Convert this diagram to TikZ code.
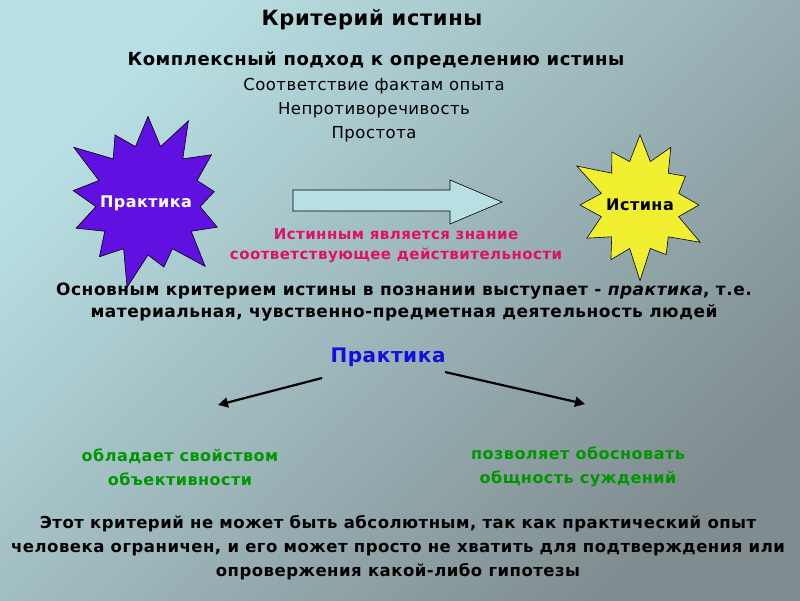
\documentclass[tikz,border=0pt]{standalone}
\usepackage{fontspec}
\setmainfont{DejaVu Sans}[LetterSpace=3]
\usetikzlibrary{shapes.symbols,arrows.meta}
\begin{document}
\begin{tikzpicture}[x=1pt,y=-1pt,
  txt/.style={align=center,inner sep=0pt,font=\fontsize{16.5}{24}\selectfont},
  btxt/.style={txt,font=\bfseries\fontsize{15}{20}\selectfont},
  star/.style={starburst,starburst points=13,draw=black,line width=0.6pt,inner sep=0pt},
  conn/.style={line width=2.2pt,-{Triangle[length=10pt,width=10pt]}}]
\useasboundingbox (0,0) rectangle (800,600);
\shade[top color={rgb,255:red,184;green,224;blue,228},bottom color={rgb,255:red,128;green,140;blue,144},shading angle=45] (0,0) rectangle (800,600);
\node[txt,font=\bfseries\fontsize{21}{24}\selectfont] (t) at (372,20) {Критерий истины};
\node[btxt,font=\bfseries\fontsize{18}{20}\selectfont] (s) at (376,60) {Комплексный подход к определению истины};
\node[txt] (l1) at (374,86) {Соответствие фактам опыта};
\node[txt] (l2) at (374,110) {Непротиворечивость};
\node[txt] (l3) at (374,134) {Простота};
\node[star,fill={rgb,255:red,96;green,16;blue,224},minimum width=185pt,minimum height=190pt,starburst point height=40pt] (p) at (148,200) {};
\node[font=\bfseries\fontsize{16}{20}\selectfont,text=white] (pt) at (146,203) {Практика};
\node[star,fill={rgb,255:red,240;green,240;blue,48},minimum width=150pt,minimum height=160pt,starburst point height=35pt,starburst points=12] (i) at (640,205) {};
\node[font=\bfseries\fontsize{16}{20}\selectfont] (it) at (640,205) {Истина};
\draw[fill={rgb,255:red,184;green,224;blue,228},line width=0.6pt] (293,190) -- (450,190) -- (450,180) -- (502,202) -- (450,224) -- (450,211) -- (293,211) -- cycle;
\node[btxt,text={rgb,255:red,224;green,16;blue,106}] (ist) at (396,246) {Истинным является знание\\соответствующее действительности};
\node[btxt,font=\bfseries\fontsize{17}{22}\selectfont] (main) at (404,302) {Основным критерием истины в познании выступает - \textit{практика}, т.е.\\материальная, чувственно-предметная деятельность людей};
\node[font=\bfseries\fontsize{20}{22}\selectfont,text={rgb,255:red,16;green,16;blue,224}] (pr) at (388,357) {Практика};
\node[btxt,font=\bfseries\fontsize{16}{24}\selectfont,text={rgb,255:red,0;green,150;blue,0}] (g1) at (180,467) {обладает свойством\\объективности};
\node[btxt,font=\bfseries\fontsize{16}{24}\selectfont,text={rgb,255:red,0;green,150;blue,0}] (g2) at (578,467) {позволяет обосновать\\общность суждений};
\coordinate (c1) at (322,378);
\coordinate (c2) at (218,405);
\coordinate (c3) at (445,372);
\coordinate (c4) at (585,404);
\draw[conn] (c1) -- (c2);
\draw[conn] (c3) -- (c4);
\node[btxt,font=\bfseries\fontsize{16.5}{24}\selectfont] (bot) at (398,548) {Этот критерий не может быть абсолютным, так как практический опыт\\человека ограничен, и его может просто не хватить для подтверждения или\\опровержения какой-либо гипотезы};
\end{tikzpicture}
\end{document}
